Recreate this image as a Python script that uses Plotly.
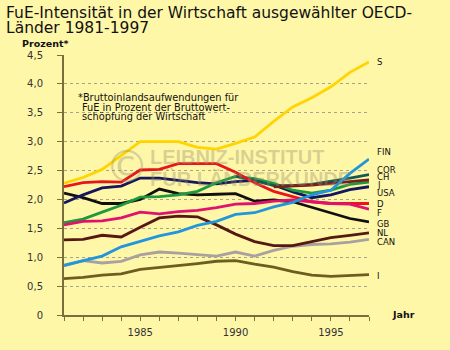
import plotly.graph_objects as go

# ---- data ----
years = list(range(1981, 1998))
tick_years = ["", "", "", "", "1985", "", "", "", "", "1990", "", "", "", "", "1995", "", ""]
y_tick_vals = [0, 0.5, 1.0, 1.5, 2.0, 2.5, 3.0, 3.5, 4.0, 4.5]
y_tick_text = ["0", "0,5", "1,0", "1,5", "2,0", "2,5", "3,0", "3,5", "4,0", "4,5"]

S   = [2.28, 2.38, 2.52, 2.76, 3.00, 3.00, 3.00, 2.90, 2.87, 2.97, 3.08, 3.35, 3.60, 3.76, 3.95, 4.20, 4.38]
D   = [2.22, 2.29, 2.31, 2.30, 2.51, 2.52, 2.62, 2.62, 2.62, 2.47, 2.29, 2.14, 2.05, 1.96, 1.93, 1.93, 1.93]
USA = [1.94, 2.08, 2.20, 2.23, 2.37, 2.37, 2.33, 2.29, 2.27, 2.31, 2.33, 2.25, 2.13, 2.03, 2.08, 2.17, 2.22]
GB  = [2.11, 2.03, 1.93, 1.93, 2.00, 2.18, 2.10, 2.08, 2.09, 2.10, 1.97, 1.99, 1.96, 1.86, 1.76, 1.67, 1.61]
J   = [1.60, 1.66, 1.78, 1.90, 2.04, 2.05, 2.08, 2.14, 2.29, 2.40, 2.36, 2.28, 2.16, 2.11, 2.16, 2.26, 2.30]
F   = [1.56, 1.62, 1.63, 1.68, 1.78, 1.75, 1.79, 1.81, 1.86, 1.92, 1.93, 1.97, 1.99, 1.96, 1.93, 1.92, 1.83]
NL  = [1.30, 1.31, 1.38, 1.35, 1.52, 1.68, 1.71, 1.70, 1.56, 1.40, 1.27, 1.20, 1.20, 1.27, 1.34, 1.38, 1.42]
FIN = [0.86, 0.94, 1.02, 1.18, 1.27, 1.37, 1.44, 1.55, 1.62, 1.74, 1.77, 1.87, 1.95, 2.08, 2.16, 2.45, 2.70]
CAN = [0.85, 0.94, 0.90, 0.93, 1.04, 1.09, 1.07, 1.04, 1.02, 1.09, 1.02, 1.12, 1.19, 1.22, 1.23, 1.26, 1.31]
I   = [0.63, 0.65, 0.69, 0.71, 0.79, 0.82, 0.85, 0.89, 0.93, 0.94, 0.88, 0.83, 0.75, 0.69, 0.67, 0.68, 0.70]
COR = [None] * 9 + [2.40, 2.33, 2.24, 2.24, 2.26, 2.31, 2.37, 2.43]
CH  = [None] * 11 + [2.22, 2.23, 2.25, 2.28, 2.31, 2.34]

# ---- styles ----
BG = "#FFF7A8"
AX = "#77703C"
FONT = "DejaVu Sans"

series = [
    ("I", I, "#6B5E1E"),
    ("CAN", CAN, "#A9A1A0"),
    ("NL", NL, "#561812"),
    ("GB", GB, "#101010"),
    ("USA", USA, "#15165E"),
    ("J", J, "#1C9A3C"),
    ("COR", COR, "#125A52"),
    ("CH", CH, "#7A1E1C"),
    ("D", D, "#E8161C"),
    ("F", F, "#E0126E"),
    ("FIN", FIN, "#2296DC"),
    ("S", S, "#FFD400"),
]

# label positions (pixel y) at right
label_py = {"S": 62, "FIN": 157, "COR": 175.5, "CH": 183.5, "J": 191, "USA": 199.5,
            "D": 211, "F": 221, "GB": 232, "NL": 242, "CAN": 251, "I": 287}

L, R, T, B = 64, 369, 55, 328


def P(px, py):
    return (px - L) / (R - L), (B - py) / (B - T)


fig = go.Figure()
for name, vals, col in series:
    fig.add_trace(go.Scatter(x=years, y=vals, mode="lines", name=name,
                             line=dict(color=col, width=2.8),
                             connectgaps=False, hoverinfo="skip", showlegend=False))

ann = []


def text(px, py, s, size, bold=False, anchor="left", color="#111", family=FONT):
    x, y = P(px, py)
    if bold:
        s = "<b>" + s + "</b>"
    ann.append(dict(x=x, y=y, xref="paper", yref="paper", text=s, showarrow=False,
                    xanchor=anchor, yanchor="middle",
                    font=dict(family=family, size=size, color=color)))


# watermark
wm_col = "rgba(150,145,110,0.38)"
text(103, 172, "©", 44, color=wm_col, family="DejaVu Sans")
text(148, 162, "LEIBNIZ-INSTITUT", 20, bold=True, color=wm_col, family="Liberation Sans")
text(148, 185, "FÜR LÄNDERKUNDE", 20, bold=True, color=wm_col, family="Liberation Sans")

# title
text(4, 11, "FuE-Intensität in der Wirtschaft ausgewählter OECD-", 15.5)
text(4, 27, "Länder 1981-1997", 15.5)
text(20, 43, "Prozent*", 9.5, bold=True)
text(390, 327, "Jahr", 9.5, bold=True)

# footnote
text(76, 100, "*Bruttoinlandsaufwendungen für", 9.8)
text(80, 110, "FuE in Prozent der Bruttowert-", 9.8)
text(80, 120, "schöpfung der Wirtschaft", 9.8)

for name, py in label_py.items():
    text(375, py, name, 8.5)

fig.update_layout(
    width=450, height=350,
    margin=dict(l=L, r=450 - R, t=T, b=350 - B, pad=0),
    paper_bgcolor=BG, plot_bgcolor=BG,
    annotations=ann,
    showlegend=False,
    xaxis=dict(range=[1981, 1997], tickvals=years, ticktext=tick_years,
               ticks="outside", ticklen=4, tickcolor=AX, tickwidth=1,
               showline=True, linecolor=AX, linewidth=2,
               showgrid=False, zeroline=False, ticklabelstandoff=3,
               tickfont=dict(family=FONT, size=10, color="#333")),
    yaxis=dict(range=[0, 4.5], tickvals=y_tick_vals, ticktext=y_tick_text,
               ticks="outside", ticklen=5, tickcolor=AX, tickwidth=1,
               showline=True, linecolor=AX, linewidth=2,
               showgrid=True, gridcolor="#A8A48A", griddash="dot", gridwidth=1,
               zeroline=False, ticklabelstandoff=12,
               tickfont=dict(family=FONT, size=10, color="#333")),
)

fig.write_html("out.html")
